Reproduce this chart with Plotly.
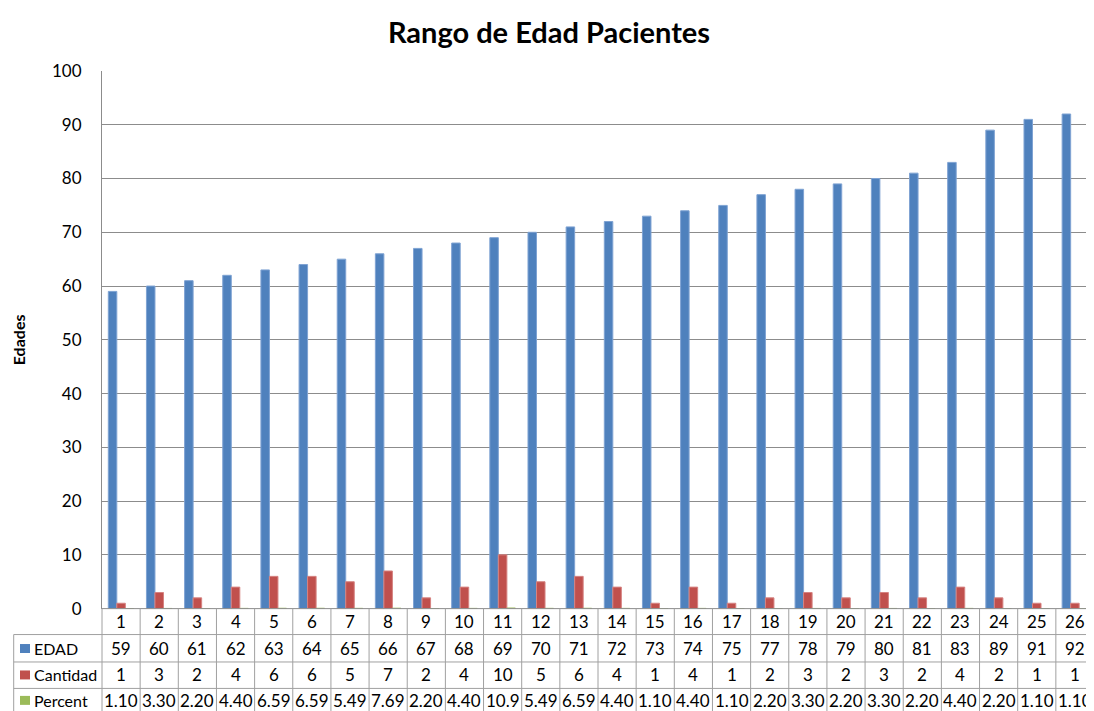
import plotly.graph_objects as go

categories = [str(i) for i in range(1, 27)]
edad = [59, 60, 61, 62, 63, 64, 65, 66, 67, 68, 69, 70, 71, 72, 73, 74, 75, 77, 78, 79, 80, 81, 83, 89, 91, 92]
cantidad = [1, 3, 2, 4, 6, 6, 5, 7, 2, 4, 10, 5, 6, 4, 1, 4, 1, 2, 3, 2, 3, 2, 4, 2, 1, 1]
percent_labels = ["1.10", "3.30", "2.20", "4.40", "6.59", "6.59", "5.49", "7.69", "2.20", "4.40", "10.9", "5.49",
                  "6.59", "4.40", "1.10", "4.40", "1.10", "2.20", "3.30", "2.20", "3.30", "2.20", "4.40", "2.20",
                  "1.10", "1.10"]
# Percent stored as fractions in the sheet (bars are near zero height)
percent = [float(p) / 100 for p in percent_labels]
series_names = ["EDAD", "Cantidad", "Percent"]
colors = ["#4F81BD", "#C0504D", "#9BBB59"]
edges = ["#7FA3D3", "#D68381", "#9BBB59"]
y_ticks = list(range(0, 101, 10))

# page body has an 8px margin; the capture is also slightly squeezed vertically
OFF = 8
SY = 0.987
RW, RH = 1094, 711

def fy(r):
    return r / SY - OFF

W = RW - OFF
H = int(round(fy(RH)))
L = 102 - OFF
T = fy(70)
PW, PH = W - L, H - T
FONT = "Lato, Carlito, Calibri, sans-serif"
GRID = "#8C8C8C"
TBL = "#A0A0A0"

def py(r):
    return (H - fy(r)) / PH

def px(p):
    return (p - 102) / PW

fig = go.Figure()
x_idx = list(range(len(categories)))
for name, vals, c, e in zip(series_names, [edad, cantidad, percent], colors, edges):
    fig.add_trace(go.Bar(x=x_idx, y=vals, name=name, marker=dict(color=c, line=dict(color=e, width=1)),
                         showlegend=False))

fig.update_layout(
    width=W, height=H,
    margin=dict(l=L, r=0, t=T, b=0),
    paper_bgcolor="white", plot_bgcolor="white",
    barmode="group", bargap=0.33, bargroupgap=0,
    font=dict(family=FONT, size=17, color="#000000"),
    title=dict(text="<b>Rango de Edad Pacientes</b>", xref="container", yref="container",
               x=(549 - OFF) / W, y=1 - fy(32) / H, xanchor="center", yanchor="middle",
               font=dict(family=FONT, size=29, color="#000000")),
    xaxis=dict(range=[-0.5, len(categories) - 0.5], showticklabels=False, showgrid=False,
               zeroline=False, showline=False, fixedrange=True),
    yaxis=dict(domain=[py(609), 1], range=[0, 100], tickvals=y_ticks, showgrid=True, gridcolor=GRID,
               gridwidth=1, zeroline=False, showline=True, linecolor=GRID, linewidth=1,
               ticks="", ticklabelstandoff=16, tickfont=dict(size=17, color="#000000")),
)

shapes = []
shapes.append(dict(type="line", xref="paper", yref="paper", x0=0, x1=1, y0=py(609), y1=py(609),
                   line=dict(color=GRID, width=1)))
for yy in [635, 662.5, 689]:
    shapes.append(dict(type="line", xref="paper", yref="paper", x0=px(13.7), x1=1.01, y0=py(yy), y1=py(yy),
                       line=dict(color=TBL, width=1)))
n = len(categories)
for i in range(n + 1):
    shapes.append(dict(type="line", xref="paper", yref="paper", x0=i / n, x1=i / n, y0=py(609), y1=py(720),
                       line=dict(color=TBL, width=1)))
shapes.append(dict(type="line", xref="paper", yref="paper", x0=px(13.7), x1=px(13.7), y0=py(635), y1=py(720),
                   line=dict(color=TBL, width=1)))
row_centers = [649, 675.5, 701]
for c, yc in zip(colors, row_centers):
    shapes.append(dict(type="rect", xref="paper", yref="paper", x0=px(20), x1=px(30), y0=py(yc + 4.5),
                       y1=py(yc - 4.5), fillcolor=c, line=dict(width=0)))
fig.update_layout(shapes=shapes)

ann = []
ann.append(dict(text="<b>Edades</b>", xref="paper", yref="paper", x=px(18), y=py(340), textangle=-90,
                showarrow=False, font=dict(size=16, color="#000000"), xanchor="center", yanchor="middle"))
for name, yc in zip(series_names, row_centers):
    ann.append(dict(text=name, xref="paper", yref="paper", x=px(32), y=py(yc), xanchor="left",
                    yanchor="middle", showarrow=False, font=dict(size=16)))
rows = [(622, categories), (649, [str(v) for v in edad]), (675.5, [str(v) for v in cantidad]),
        (701, percent_labels)]
for yc, labels in rows:
    for i, lab in enumerate(labels):
        ann.append(dict(text=lab, xref="paper", yref="paper", x=(i + 0.5) / n, y=py(yc), xanchor="center",
                        yanchor="middle", showarrow=False, font=dict(size=17)))
fig.update_layout(annotations=ann)

fig.write_html("out.html")
